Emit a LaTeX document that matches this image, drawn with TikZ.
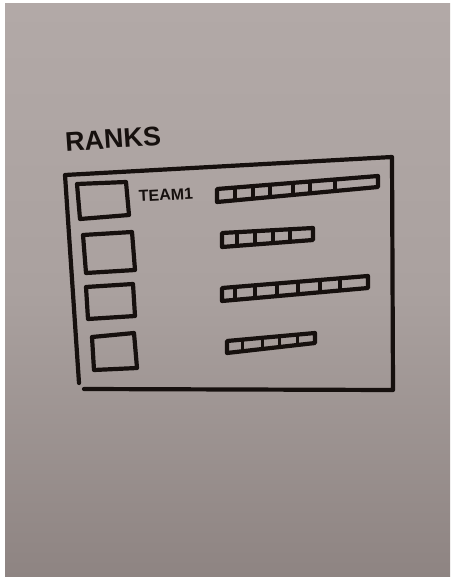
\documentclass[tikz,border=0pt]{standalone}
\usepackage{fontspec}
\setmainfont{Liberation Sans}
\usetikzlibrary{calc}
\definecolor{papertop}{RGB}{178,169,167}
\definecolor{papermid}{RGB}{170,161,159}
\definecolor{paperbot}{RGB}{142,132,130}
\definecolor{ink}{RGB}{22,16,14}
\tikzset{
  sketch/.style={draw=ink, line width=4.2pt, line join=round, line cap=round},
  cellline/.style={draw=ink, line width=3.2pt, line cap=round},
  handtext/.style={text=ink, inner sep=0pt},
}
\begin{document}
\begin{tikzpicture}[x=1pt,y=-1pt]
  \useasboundingbox (0,0) rectangle (453,577);
  \fill[white] (0,0) rectangle (453,577);
  \shade[top color=papertop, bottom color=paperbot, middle color=papermid] (5,4) rectangle (450,577);

  % title
  \node[handtext, font=\fontsize{27}{27}\selectfont\bfseries, rotate=4] (title) at (113,139) {RANKS};

  % outer frame
  \coordinate (fTL) at (65,175);
  \coordinate (fTR) at (392,157);
  \coordinate (fBR) at (393,390);
  \coordinate (fBL) at (84,389);
  \coordinate (fLE) at (79,383);
  \draw[sketch] (fLE) -- (fTL) -- (fTR) -- (fBR) -- (fBL);

  % team label
  \node[handtext, font=\fontsize{16}{16}\selectfont\bfseries, rotate=3] (team) at (166,195) {TEAM1};

  % left squares
  \draw[sketch] (77,184) coordinate (s1a) -- (126,182) -- (129,215) -- (80,219) -- cycle;
  \draw[sketch] (83,235) coordinate (s2a) -- (132,232) -- (135,270) -- (86,273) -- cycle;
  \draw[sketch] (86,287) coordinate (s3a) -- (133,284) -- (135,316) -- (88,319) -- cycle;
  \draw[sketch] (92,337) coordinate (s4a) -- (134,333) -- (137,368) -- (94,370) -- cycle;

  % bar 1
  \coordinate (b1tl) at (217,189); \coordinate (b1tr) at (378,176);
  \coordinate (b1bl) at (217,202); \coordinate (b1br) at (378,187);
  \draw[sketch] (b1tl) -- (b1tr) -- (b1br) -- (b1bl) -- cycle;
  \foreach \f in {0.112,0.224,0.329,0.472,0.578,0.733}
    \draw[cellline] ($(b1tl)!\f!(b1tr)$) -- ($(b1bl)!\f!(b1br)$);

  % bar 2
  \coordinate (b2tl) at (222,233); \coordinate (b2tr) at (313,228);
  \coordinate (b2bl) at (222,247); \coordinate (b2br) at (313,240);
  \draw[sketch] (b2tl) -- (b2tr) -- (b2br) -- (b2bl) -- cycle;
  \foreach \f in {0.165,0.363,0.560,0.747}
    \draw[cellline] ($(b2tl)!\f!(b2tr)$) -- ($(b2bl)!\f!(b2br)$);

  % bar 3
  \coordinate (b3tl) at (222,288); \coordinate (b3tr) at (368,276);
  \coordinate (b3bl) at (222,301); \coordinate (b3br) at (368,288);
  \draw[sketch] (b3tl) -- (b3tr) -- (b3br) -- (b3bl) -- cycle;
  \foreach \f in {0.089,0.226,0.377,0.521,0.671,0.808}
    \draw[cellline] ($(b3tl)!\f!(b3tr)$) -- ($(b3bl)!\f!(b3br)$);

  % bar 4
  \coordinate (b4tl) at (227,341); \coordinate (b4tr) at (315,333);
  \coordinate (b4bl) at (227,353); \coordinate (b4br) at (315,343);
  \draw[sketch] (b4tl) -- (b4tr) -- (b4br) -- (b4bl) -- cycle;
  \foreach \f in {0.18,0.40,0.60,0.80}
    \draw[cellline] ($(b4tl)!\f!(b4tr)$) -- ($(b4bl)!\f!(b4br)$);
\end{tikzpicture}
\end{document}
